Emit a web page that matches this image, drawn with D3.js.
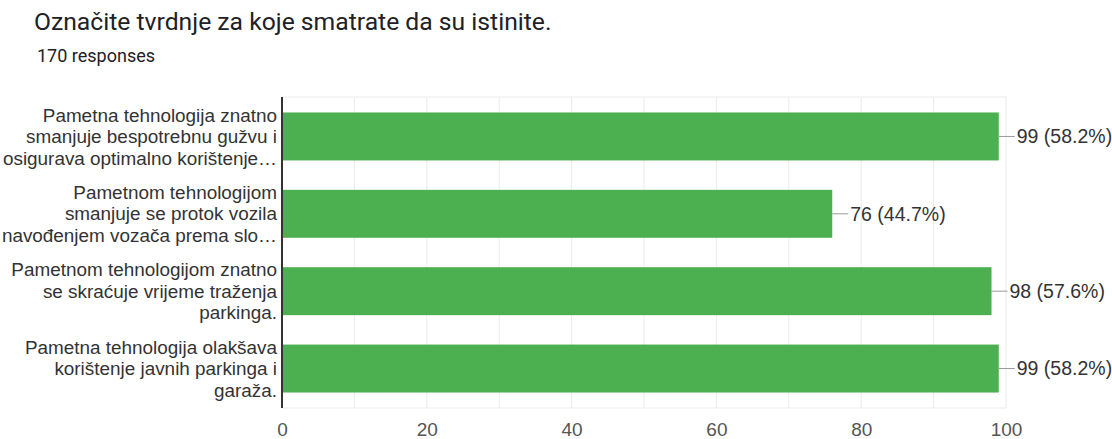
<!DOCTYPE html>
<html>
<head>
<meta charset="utf-8">
<script src="https://cdn.jsdelivr.net/npm/d3@7"></script>
<style>
body { margin: 0; background: #fff; font-family: Roboto, Arial, sans-serif; }
</style>
</head>
<body>
<script>
// data
var categories = [
	["Pametna tehnologija znatno", "smanjuje bespotrebnu gužvu i", "osigurava optimalno korištenje…"],
	["Pametnom tehnologijom", "smanjuje se protok vozila", "navođenjem vozača prema slo…"],
	["Pametnom tehnologijom znatno", "se skraćuje vrijeme traženja", "parkinga."],
	["Pametna tehnologija olakšava", "korištenje javnih parkinga i", "garaža."]
]
var counts = [99, 76, 98, 99]
var percents = ["58.2%", "44.7%", "57.6%", "58.2%"]
var tickValues = [0, 20, 40, 60, 80, 100]

var width = 1112, height = 439
var plotLeft = 282, plotRight = 1006, plotTop = 97, plotBottom = 408
var chartFont = "'Liberation Sans', Arial, sans-serif"

var svg = d3.select("body").append("svg")
	.attr("width", width)
	.attr("height", height)

svg.append("text")
	.attr("x", 34).attr("y", 30)
	.attr("font-size", 24.7)
	.attr("fill", "#202124")
	.text("Označite tvrdnje za koje smatrate da su istinite.")

svg.append("text")
	.attr("x", 37).attr("y", 62)
	.attr("font-size", 18)
	.attr("fill", "#202124")
	.text("170 responses")

var xScale = d3.scaleLinear().domain([0, 100]).range([plotLeft, plotRight])
var yScale = d3.scaleBand().domain(d3.range(counts.length))
	.range([plotTop, plotBottom]).paddingInner(0.38).paddingOuter(0.2)

// grid
svg.append("g").selectAll("line")
	.data(d3.range(10, 101, 10))
	.enter().append("line")
	.attr("x1", function(d){return xScale(d)})
	.attr("x2", function(d){return xScale(d)})
	.attr("y1", plotTop).attr("y2", plotBottom)
	.attr("stroke", "#ebebeb").attr("stroke-width", 1)

svg.append("line").attr("x1", plotLeft).attr("x2", plotRight)
	.attr("y1", plotTop).attr("y2", plotTop).attr("stroke", "#ebebeb")
svg.append("line").attr("x1", plotLeft).attr("x2", plotRight)
	.attr("y1", plotBottom).attr("y2", plotBottom).attr("stroke", "#ebebeb")

// bars
var bars = svg.append("g").selectAll("g")
	.data(counts)
	.enter().append("g")

bars.append("rect")
	.attr("x", xScale(0))
	.attr("y", function(d, i){return yScale(i)})
	.attr("width", function(d){return xScale(d) - xScale(0)})
	.attr("height", yScale.bandwidth())
	.attr("fill", "#4caf50")

bars.append("line")
	.attr("x1", function(d){return xScale(d)})
	.attr("x2", function(d){return xScale(d) + 16})
	.attr("y1", function(d, i){return yScale(i) + yScale.bandwidth() / 2})
	.attr("y2", function(d, i){return yScale(i) + yScale.bandwidth() / 2})
	.attr("stroke", "#999").attr("stroke-width", 1)

bars.append("text")
	.attr("x", function(d){return xScale(d) + 18})
	.attr("y", function(d, i){return yScale(i) + yScale.bandwidth() / 2})
	.attr("dy", "0.35em")
	.attr("font-size", 19.5)
	.attr("font-family", chartFont)
	.attr("fill", "#333")
	.text(function(d, i){return d + " (" + percents[i] + ")"})

// category labels
var labels = svg.append("g").selectAll("text")
	.data(categories)
	.enter().append("text")
	.attr("text-anchor", "end")
	.attr("font-size", 18.9)
	.attr("font-family", chartFont)
	.attr("fill", "#333")

labels.selectAll("tspan")
	.data(function(d, i){return d.map(function(t, j){return {t: t, i: i, j: j, n: d.length}})})
	.enter().append("tspan")
	.attr("x", 277)
	.attr("y", function(d){return yScale(d.i) + yScale.bandwidth() / 2 + (d.j - (d.n - 1) / 2) * 21.5})
	.attr("dy", "0.35em")
	.text(function(d){return d.t})

// axis line
svg.append("line").attr("x1", plotLeft).attr("x2", plotLeft)
	.attr("y1", plotTop).attr("y2", plotBottom)
	.attr("stroke", "#333").attr("stroke-width", 2)

// x axis ticks
var xAxis = d3.axisBottom(xScale).tickValues(tickValues).tickSize(0).tickPadding(0)
var gx = svg.append("g").attr("transform", "translate(0," + (plotBottom + 21) + ")").call(xAxis)
gx.select(".domain").remove()
gx.selectAll("text").attr("font-size", 19).attr("fill", "#555")
	.attr("font-family", chartFont).attr("dy", "0.35em")
</script>
</body>
</html>
